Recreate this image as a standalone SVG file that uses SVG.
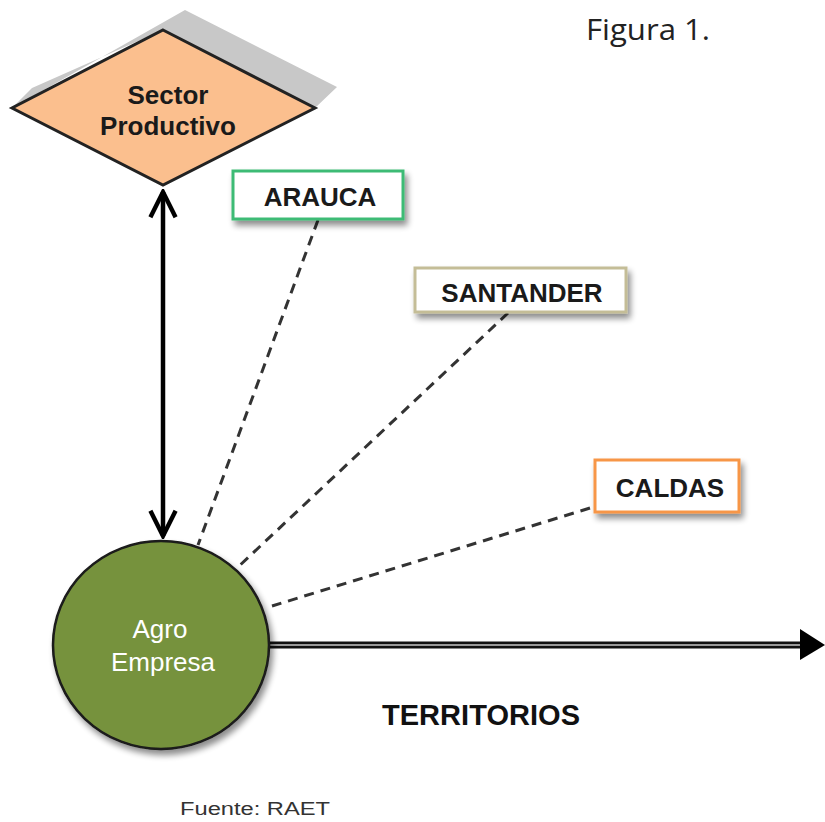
<svg xmlns="http://www.w3.org/2000/svg" width="825" height="822" viewBox="0 0 825 822">
<style>
.lbl{font-family:"Liberation Sans",Arial,sans-serif;font-weight:bold;font-size:26px;fill:#1a1a1a;text-anchor:middle}
.box{fill:#fff;stroke-width:3}
.dash{stroke:#333;stroke-width:3;stroke-dasharray:10,7;fill:none}
.wt{font-family:"Liberation Sans",Arial,sans-serif;font-size:26px;fill:#fff;text-anchor:middle}
</style>
<defs>
<filter id="sh" x="-20%" y="-20%" width="150%" height="180%">
<feGaussianBlur in="SourceAlpha" stdDeviation="3"/>
<feOffset dx="3" dy="5" result="b"/>
<feComponentTransfer><feFuncA type="linear" slope="0.45"/></feComponentTransfer>
<feMerge><feMergeNode/><feMergeNode in="SourceGraphic"/></feMerge>
</filter>
<marker id="ah" viewBox="0 0 10 10" refX="9" refY="5" markerWidth="7" markerHeight="7" orient="auto-start-reverse" markerUnits="strokeWidth">
<path d="M1,1 L9,5 L1,9" fill="none" stroke="#000" stroke-width="1.4"/>
</marker>
</defs>
<text x="586" y="40" font-family="Open Sans,'Liberation Sans',sans-serif" font-size="30" fill="#222" textLength="124" lengthAdjust="spacingAndGlyphs">Figura 1.</text>
<g id="connectors">
<line class="dash" x1="318" y1="220" x2="198" y2="545"/>
<line class="dash" x1="508" y1="313" x2="237" y2="568"/>
<line class="dash" x1="590" y1="508" x2="272" y2="606"/>
<line x1="163" y1="192" x2="163" y2="536" stroke="#000" stroke-width="4.5" marker-start="url(#ah)" marker-end="url(#ah)"/>
<line x1="268" y1="645" x2="805" y2="645" stroke="#111" stroke-width="7"/>
<line x1="268" y1="645" x2="805" y2="645" stroke="#999" stroke-width="2"/>
<polygon points="800,629 825,645 800,660" fill="#000"/>
</g>
<g id="sector">
<polygon points="185,10 337,87 315,108 163,30 32,88 12,108" fill="#c8c8c8"/>
<polygon points="163,30 315,108 163,185 12,108" fill="#fbbf8e" stroke="#222" stroke-width="3"/>
<text class="lbl" x="168" y="104" fill="#333">Sector</text>
<text class="lbl" x="168" y="135" fill="#333">Productivo</text>
</g>
<g id="arauca">
<rect class="box" x="233" y="171" width="170" height="48" stroke="#3dbb74" filter="url(#sh)"/>
<text class="lbl" x="320" y="206">ARAUCA</text>
</g>
<g id="santander">
<rect class="box" x="415" y="268" width="211" height="44" stroke="#c4bd97" filter="url(#sh)"/>
<text class="lbl" x="522" y="302">SANTANDER</text>
</g>
<g id="caldas">
<rect class="box" x="595" y="460" width="144" height="52" stroke="#f79646" filter="url(#sh)"/>
<text class="lbl" x="670" y="497">CALDAS</text>
</g>
<g id="agro">
<ellipse cx="161" cy="645" rx="108" ry="104" fill="#76923c" stroke="#1a1a1a" stroke-width="2.5" filter="url(#sh)"/>
<text class="wt" x="160" y="638">Agro</text>
<text class="wt" x="163" y="671">Empresa</text>
</g>
<text x="382" y="725" font-family="'Liberation Sans Narrow','Liberation Sans',sans-serif" font-weight="bold" font-size="29" fill="#111" textLength="198">TERRITORIOS</text>
<text x="180" y="815" font-family="'Liberation Sans',Arial,sans-serif" font-size="18" fill="#333" textLength="150" lengthAdjust="spacingAndGlyphs">Fuente: RAET</text>
</svg>
